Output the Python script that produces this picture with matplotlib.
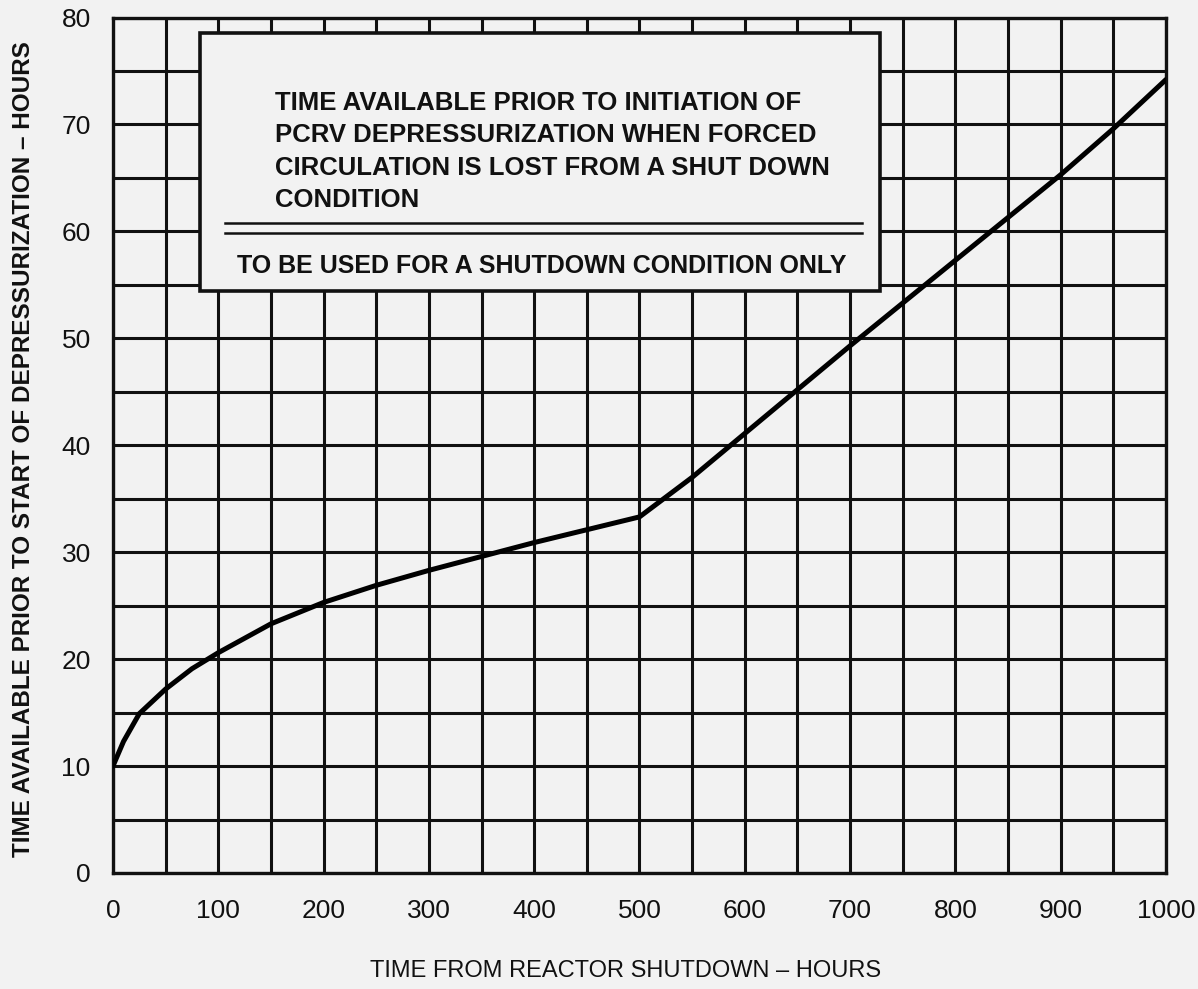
import matplotlib.pyplot as plt
from matplotlib.patches import Rectangle

# curve
hours = [0, 10, 25, 50, 75, 100, 150, 200, 250, 300, 350, 400, 450, 500, 550,
         600, 650, 700, 750, 800, 850, 900, 950, 1000]
avail = [10, 12.3, 14.9, 17.2, 19.1, 20.6, 23.3, 25.3, 26.9, 28.3, 29.6, 30.9,
         32.1, 33.3, 37.0, 41.1, 45.2, 49.3, 53.3, 57.3, 61.3, 65.3, 69.6, 74.2]

x_ticks = list(range(0, 1001, 50))
y_ticks = list(range(0, 81, 5))
x_labels = [str(v) if v % 100 == 0 else "" for v in x_ticks]
y_labels = [str(v) if v % 10 == 0 else "" for v in y_ticks]

box_lines = ["TIME AVAILABLE PRIOR TO INITIATION OF",
             "PCRV DEPRESSURIZATION WHEN FORCED",
             "CIRCULATION IS LOST FROM A SHUT DOWN",
             "CONDITION"]
box_note = "TO BE USED FOR A SHUTDOWN CONDITION ONLY"

fam = ["Liberation Sans", "DejaVu Sans"]
ink = "#111111"
bg = "#f2f2f2"

fig = plt.figure(figsize=(11.98, 9.89), dpi=100, facecolor=bg)
ax = fig.add_axes([0.0943, 0.1173, 0.879, 0.865])
ax.set_facecolor(bg)

ax.plot(hours, avail, color="black", lw=3.6, zorder=5, solid_capstyle="round")

ax.set_xlim(0, 1000)
ax.set_ylim(0, 80)
ax.set_xticks(x_ticks)
ax.set_xticklabels(x_labels)
ax.set_yticks(y_ticks)
ax.set_yticklabels(y_labels)
ax.tick_params(length=0, labelsize=19, labelcolor=ink)
ax.tick_params(axis="x", pad=19)
ax.tick_params(axis="y", pad=16)
for lab in ax.get_xticklabels() + ax.get_yticklabels():
    lab.set_family(fam)
ax.grid(True, color=ink, lw=2.2)
ax.set_axisbelow(True)
for s in ax.spines.values():
    s.set_linewidth(2.4)
    s.set_color(ink)

ax.set_xlabel("TIME FROM REACTOR SHUTDOWN \u2013 HOURS", family=fam,
              fontsize=17, color=ink)
ax.xaxis.set_label_coords(0.487, -0.102)
ax.set_ylabel("TIME AVAILABLE PRIOR TO START OF DEPRESSURIZATION \u2013 HOURS",
              family=fam, fontsize=17.5, fontweight="bold", color=ink)
ax.yaxis.set_label_coords(-0.074, 0.495)

# note box
ax.add_patch(Rectangle((0.0826, 0.68), 0.6454, 0.302, transform=ax.transAxes,
                       facecolor=bg, edgecolor=ink, lw=2.6, zorder=6))
ys = [0.9006, 0.863, 0.8246, 0.787]
for t, yy in zip(box_lines, ys):
    ax.text(0.154, yy, t, transform=ax.transAxes, family=fam, fontsize=18.5,
            fontweight="bold", va="center", ha="left", zorder=7, color=ink)
for yy in [0.760, 0.7485]:
    ax.plot([0.106, 0.711], [yy, yy], transform=ax.transAxes, color=ink,
            lw=1.8, zorder=7)
ax.text(0.4075, 0.71, box_note, transform=ax.transAxes, family=fam, fontsize=18,
        fontweight="bold", va="center", ha="center", zorder=7, color=ink)

fig.savefig("out.png", dpi=100, facecolor=bg)
